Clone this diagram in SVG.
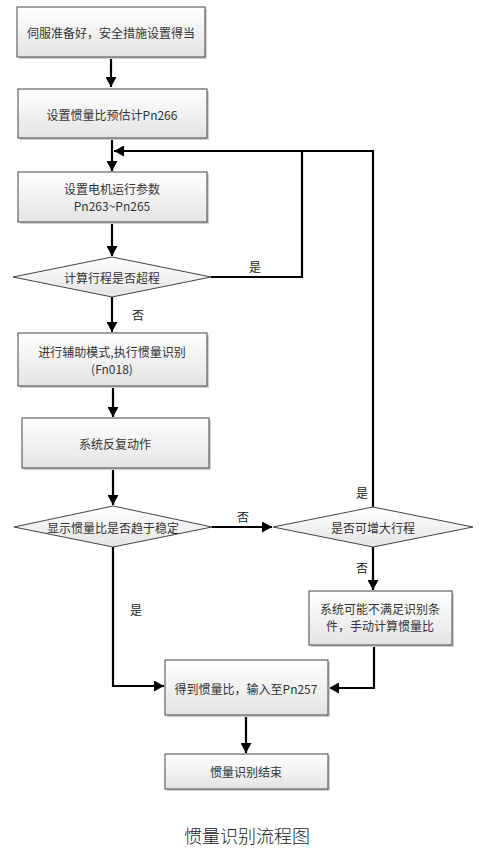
<svg xmlns="http://www.w3.org/2000/svg" width="483" height="864" viewBox="0 0 483 864">
<defs>
<linearGradient id="g" x1="0" y1="0" x2="0" y2="1">
<stop offset="0" stop-color="#ffffff"/>
<stop offset="1" stop-color="#e4e4e4"/>
</linearGradient>
<marker id="ah" markerUnits="userSpaceOnUse" markerWidth="11" markerHeight="11" refX="10" refY="5.5" orient="auto">
<path d="M0,0 L10,5.5 L0,11 z" fill="#000"/>
</marker>
</defs>
<style>
.box{fill:url(#g);stroke:#444;stroke-width:1}
.sh{fill:#cfcfcf}
.t{font-family:"Noto Sans CJK SC","Liberation Sans",sans-serif;font-size:12px;fill:#333;text-anchor:middle;dominant-baseline:central}
.lbl{font-family:"Noto Sans CJK SC","Liberation Sans",sans-serif;font-size:12px;fill:#222;text-anchor:middle;dominant-baseline:central}
.c{fill:none;stroke:#000;stroke-width:2.2}
.ca{fill:none;stroke:#000;stroke-width:2.2;marker-end:url(#ah)}
</style>
<rect width="483" height="864" fill="#fff"/>
<g id="connectors">
<path class="ca" d="M111,57 V87"/>
<path class="ca" d="M112,138 V171"/>
<path class="ca" d="M112,222 V256"/>
<path class="c" d="M211,277 H302 V151"/>
<path class="ca" d="M373,507 V151 H114"/>
<path class="ca" d="M112,297 V332"/>
<path class="ca" d="M113,386 V417"/>
<path class="ca" d="M113,468 V505"/>
<path class="ca" d="M212,527 H272"/>
<path class="ca" d="M373,547 V590"/>
<path class="ca" d="M113,547 V686 H164"/>
<path class="ca" d="M374,645 V688 H329"/>
<path class="ca" d="M246,715 V753"/>
<text class="lbl" x="255" y="266">是</text>
<text class="lbl" x="138" y="314">否</text>
<text class="lbl" x="243" y="516">否</text>
<text class="lbl" x="362" y="492">是</text>
<text class="lbl" x="362" y="567">否</text>
<text class="lbl" x="136" y="609">是</text>
</g>
<g id="n1">
<rect class="sh" x="19" y="9" width="188" height="50"/>
<rect class="box" x="17" y="7" width="188" height="50"/>
<text class="t" x="111" y="32">伺服准备好，安全措施设置得当</text>
</g>
<g id="n2">
<rect class="sh" x="20" y="91" width="189" height="49"/>
<rect class="box" x="18" y="89" width="189" height="49"/>
<text class="t" x="112" y="114">设置惯量比预估计Pn266</text>
</g>
<g id="n3">
<rect class="sh" x="20" y="174" width="189" height="50"/>
<rect class="box" x="18" y="172" width="189" height="50"/>
<text class="t" x="112" y="188">设置电机运行参数</text>
<text class="t" x="112" y="205">Pn263~Pn265</text>
</g>
<g id="d1">
<polygon class="box" points="112,257 211,277 112,297 13,277"/>
<text class="t" x="112" y="277">计算行程是否超程</text>
</g>
<g id="n4">
<rect class="sh" x="20" y="335" width="189" height="53"/>
<rect class="box" x="18" y="333" width="189" height="53"/>
<text class="t" x="112" y="351">进行辅助模式,执行惯量识别</text>
<text class="t" x="112" y="368">(Fn018)</text>
</g>
<g id="n5">
<rect class="sh" x="24" y="420" width="187" height="50"/>
<rect class="box" x="22" y="418" width="187" height="50"/>
<text class="t" x="115" y="443">系统反复动作</text>
</g>
<g id="d2">
<polygon class="box" points="113,506 212,527 113,547 14,527"/>
<text class="t" x="113" y="527">显示惯量比是否趋于稳定</text>
</g>
<g id="d3">
<polygon class="box" points="373,507 473,527 373,547 273,527"/>
<text class="t" x="373" y="527">是否可增大行程</text>
</g>
<g id="n6">
<rect class="sh" x="311" y="593" width="143" height="54"/>
<rect class="box" x="309" y="591" width="143" height="54"/>
<text class="t" x="380" y="608">系统可能不满足识别条</text>
<text class="t" x="380" y="625">件，手动计算惯量比</text>
</g>
<g id="n7">
<rect class="sh" x="167" y="662" width="163" height="55"/>
<rect class="box" x="165" y="660" width="163" height="55"/>
<text class="t" x="246" y="688">得到惯量比，输入至Pn257</text>
</g>
<g id="n8">
<rect class="sh" x="167" y="756" width="163" height="35"/>
<rect class="box" x="165" y="754" width="163" height="35"/>
<text class="t" x="246" y="771">惯量识别结束</text>
</g>
<text x="247" y="835" font-family="Noto Sans CJK SC, sans-serif" font-size="18" font-weight="300" fill="#222" text-anchor="middle" dominant-baseline="central">惯量识别流程图</text>
</svg>
